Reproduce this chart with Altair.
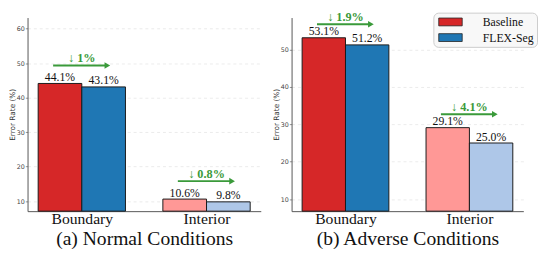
import json
import altair as alt
import pandas as pd

# ---- data ----
categories = ["Boundary", "Interior"]
methods = ["Baseline", "FLEX-Seg"]
normal_baseline = [44.1, 10.6]
normal_flex = [43.1, 9.8]
adverse_baseline = [53.1, 29.1]
adverse_flex = [51.2, 25.0]
panel_titles = ["(a) Normal Conditions", "(b) Adverse Conditions"]
normal_yticks = [10, 20, 30, 40, 50, 60]
adverse_yticks = [10, 20, 30, 40, 50]
normal_ydomain = [7.1, 63.2]
adverse_ydomain = [6.8, 58.5]

# ---- style ----
BAR_W = 0.35
COLOR_KEYS = ["Baseline", "FLEX-Seg", "Baseline (interior)", "FLEX-Seg (interior)"]
COLOR_RANGE = ["#d62728", "#1f77b4", "#ff9896", "#aec7e8"]
GREEN = "#3a9a3a"
SERIF = "Liberation Serif"
SANS = "DejaVu Sans"
XDOM = [-0.435, 1.435]
PH = 198


def make_panel(base_vals, flex_vals, title, ydom, yticks, arrow_off, show_legend, pw):
    rows = []
    for i, cat in enumerate(categories):
        for j, (m, vals) in enumerate(zip(methods, [base_vals, flex_vals])):
            x0 = i - BAR_W + j * BAR_W
            rows.append({
                "cat": cat, "method": m, "x0": x0, "x1": x0 + BAR_W,
                "xc": x0 + BAR_W / 2, "value": vals[i],
                "key": m if i == 0 else m + " (interior)",
                "label": f"{vals[i]:.1f}%",
            })
    df = pd.DataFrame(rows)
    arr = []
    for i, cat in enumerate(categories):
        drop = round(base_vals[i] - flex_vals[i], 1)
        y = base_vals[i] + arrow_off
        arr.append({"xa0": i - 0.23, "xa1": i + 0.2, "xh": i + 0.205, "xc": i,
                    "y": y, "text": f"\u2193 {drop:g}%"})
    adf = pd.DataFrame(arr)

    xscale = alt.Scale(domain=XDOM, nice=False, zero=False)
    yscale = alt.Scale(domain=ydom, nice=False, zero=False)
    label_expr = f"{json.dumps(categories)}[datum.value]"

    xaxis = alt.Axis(
        values=[0, 1], labelExpr=label_expr, title=title, ticks=False,
        grid=False, labelFont=SERIF, labelFontSize=16, labelColor="#111",
        labelPadding=0, titleFont=SERIF, titleFontSize=20, titleFontWeight="normal",
        titleColor="#111", titlePadding=2.2, domainColor="#555", domainWidth=1,
        labelFlush=False)
    yaxis = alt.Axis(
        values=yticks, title="Error Rate (%)", grid=True, gridDash=[3, 3],
        gridColor="#e2e2e2", gridWidth=0.7, labelFont=SANS, labelFontSize=6.5,
        labelColor="#444", labelPadding=1, tickSize=2.3, tickColor="#777",
        tickWidth=0.8, domainColor="#555", domainWidth=1, titleFont=SANS,
        titleFontSize=7.5, titleFontWeight="normal", titleColor="#333",
        titlePadding=0)

    legend = None
    if show_legend:
        legend = alt.Legend(
            values=methods, title=None, orient="none", legendX=145, legendY=-5,
            symbolType="M-3,-1H3V1H-3Z", symbolSize=64, symbolOffset=8,
            symbolStrokeColor="#222", symbolStrokeWidth=0.8, symbolOpacity=1,
            labelFont=SERIF, labelFontSize=12, labelColor="#111", labelOffset=27,
            padding=3.5, rowPadding=4, fillColor="#f8f8f8", strokeColor="#cccccc",
            cornerRadius=5,
        )

    bars = alt.Chart(df).mark_rect(stroke="#1a1a1a", strokeWidth=1).encode(
        x=alt.X("x0:Q", scale=xscale, axis=xaxis),
        x2="x1:Q",
        y=alt.Y("value:Q", scale=yscale, axis=yaxis),
        y2=alt.datum(ydom[0]),
        color=alt.Color("key:N", scale=alt.Scale(domain=COLOR_KEYS, range=COLOR_RANGE),
                        legend=legend),
    )

    labels = alt.Chart(df).mark_text(
        font=SERIF, fontSize=12, color="#111", baseline="alphabetic", dy=-2.5
    ).encode(
        x=alt.X("xc:Q", scale=xscale, axis=xaxis),
        y=alt.Y("value:Q", scale=yscale, axis=yaxis),
        text="label:N",
    )

    shaft = alt.Chart(adf).mark_rule(color=GREEN, strokeWidth=2).encode(
        x=alt.X("xa0:Q", scale=xscale, axis=xaxis),
        x2="xa1:Q",
        y=alt.Y("y:Q", scale=yscale, axis=yaxis),
    )
    head = alt.Chart(adf).mark_point(
        shape="triangle-right", filled=True, color=GREEN, size=45, opacity=1
    ).encode(
        x=alt.X("xh:Q", scale=xscale, axis=xaxis),
        y=alt.Y("y:Q", scale=yscale, axis=yaxis),
    )
    dtext = alt.Chart(adf).mark_text(
        font=SERIF, fontSize=12.5, fontWeight="bold", color=GREEN, dy=-7.5
    ).encode(
        x=alt.X("xc:Q", scale=xscale, axis=xaxis),
        y=alt.Y("y:Q", scale=yscale, axis=yaxis),
        text="text:N",
    )

    return alt.layer(bars, labels, shaft, head, dtext).properties(width=pw, height=PH)


left = make_panel(normal_baseline, normal_flex, panel_titles[0], normal_ydomain,
                  normal_yticks, 5.2, False, 238.5)
right = make_panel(adverse_baseline, adverse_flex, panel_titles[1], adverse_ydomain,
                   adverse_yticks, 3.6, True, 237)

chart = alt.hconcat(left, right, spacing=11).resolve_scale(
    color="independent").resolve_legend(color="independent").configure_view(
    stroke=None).properties(padding=0, background="white")

chart.save("out.html", embed_options={"renderer": "svg", "actions": False})
